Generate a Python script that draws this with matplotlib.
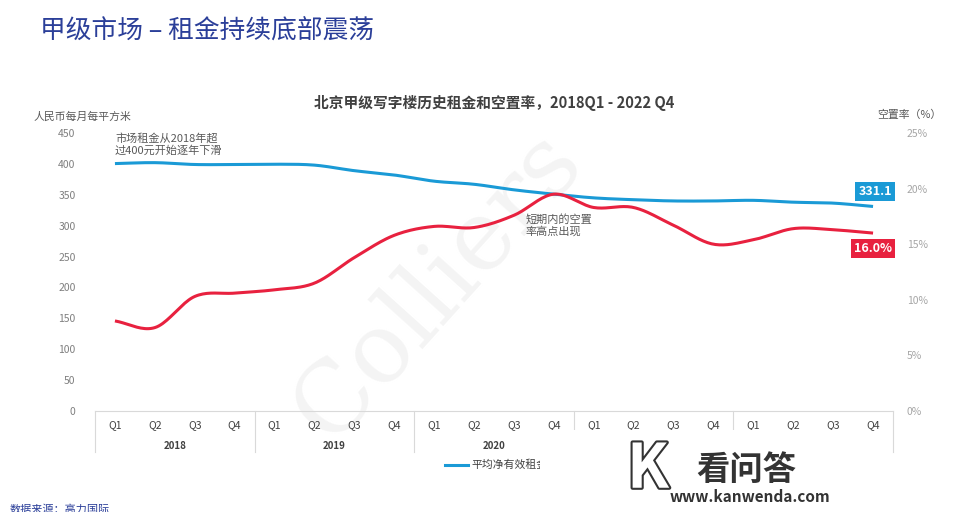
import numpy as np
import matplotlib.pyplot as plt
import matplotlib.patheffects as pe
from matplotlib.transforms import blended_transform_factory
from matplotlib.patches import Rectangle

plt.rcParams['font.family'] = ['Noto Sans CJK SC', 'DejaVu Sans']

# ===== data =====
years = ["2018", "2019", "2020", "2021", "2022"]
quarters = ["Q1", "Q2", "Q3", "Q4"]
rent = [400.5, 402, 399, 399, 399.5, 398, 389, 382, 372, 367,
        358, 351, 345, 342, 340, 340, 341, 338, 336.5, 331.1]
vacancy = [8.1, 7.5, 10.3, 10.6, 10.9, 11.5, 13.8, 15.8, 16.6, 16.5,
           17.6, 19.5, 18.3, 18.3, 16.7, 15.0, 15.4, 16.4, 16.3, 16.0]
left_ticks = [0, 50, 100, 150, 200, 250, 300, 350, 400, 450]
right_ticks = [0, 5, 10, 15, 20, 25]

BLUE = "#1a9ad6"
RED = "#e8213f"
GRAY = "#7f7f7f"


def smooth(y, n=20):
    # Catmull-Rom style smoothing like Excel's smoothed line
    y = np.asarray(y, float)
    p = np.concatenate([[2 * y[0] - y[1]], y, [2 * y[-1] - y[-2]]])
    xs, ys = [], []
    for i in range(len(y) - 1):
        p0, p1, p2, p3 = p[i], p[i + 1], p[i + 2], p[i + 3]
        t = np.linspace(0, 1, n, endpoint=False)
        v = 0.5 * ((2 * p1) + (-p0 + p2) * t + (2 * p0 - 5 * p1 + 4 * p2 - p3) * t**2
                   + (-p0 + 3 * p1 - 3 * p2 + p3) * t**3)
        xs.append(i + t)
        ys.append(v)
    xs.append([len(y) - 1])
    ys.append([y[-1]])
    return np.concatenate(xs), np.concatenate(ys)


W, H = 969, 512
fig = plt.figure(figsize=(W / 100, H / 100), dpi=100)


def fx(px):
    return px / W


def fy(py):
    return 1 - py / H


# ===== page title =====
fig.text(fx(40), fy(32), "甲级市场 – 租金持续底部震荡", fontsize=18.5, color="#2b3f99",
         va="center", ha="left")

# ===== axes =====
ax = fig.add_axes([fx(95), fy(411), fx(893 - 95), (411 - 133) / H])
ax2 = ax.twinx()

n = len(rent)
x = np.arange(n)
ax.set_xlim(-0.5, n - 0.5)
ax.set_ylim(0, 450)
ax2.set_ylim(0, 25)

# Colliers watermark
ax.text(0.43, 0.45, "Colliers", transform=ax.transAxes, fontsize=70,
        family="DejaVu Serif", color="#f4f4f4", rotation=48,
        ha="center", va="center", zorder=0)

sx, sy = smooth(rent)
ax.plot(sx, sy, color=BLUE, lw=2.2, zorder=3, solid_capstyle="butt")
sx, sy = smooth(vacancy)
ax2.plot(sx, sy, color=RED, lw=2.2, zorder=3, solid_capstyle="butt")

for a in (ax, ax2):
    for s in a.spines.values():
        s.set_visible(False)
ax.axhline(0, color="#d9d9d9", lw=0.8, clip_on=False)

ax.set_yticks(left_ticks)
ax.set_yticklabels([str(v) for v in left_ticks])
ax2.set_yticks(right_ticks)
ax2.set_yticklabels([f"{v}%" for v in right_ticks])
ax.tick_params(axis="y", length=0, pad=14, labelsize=7.5, labelcolor=GRAY)
ax2.tick_params(axis="y", length=0, pad=10, labelsize=7.5, labelcolor="#a6a6a6")
ax.set_xticks([])

# category axis (quarters / years)
tr = blended_transform_factory(ax.transData, ax.transAxes)
depth = (452 - 411) / (411 - 133)
for k in range(len(years) + 1):
    xs_ = k * 4 - 0.5
    ax.plot([xs_, xs_], [0, -depth], transform=tr, color="#d9d9d9", lw=0.8, clip_on=False)
for i in range(n):
    ax.text(x[i], -(425 - 411) / 278, quarters[i % 4], transform=tr, ha="center",
            va="center", fontsize=7.5, color="#404040")
for k, yr in enumerate(years):
    ax.text(k * 4 + 1.5, -(446 - 411) / 278, yr, transform=tr, ha="center",
            va="center", fontsize=7, color="#404040", fontweight="bold")

# data labels
ax.text(x[-1] + 0.05, 355, f"{rent[-1]:.1f}", ha="center", va="center", fontsize=9,
        color="white", fontweight="bold",
        bbox=dict(boxstyle="square,pad=0.25", fc=BLUE, ec="none"))
ax2.text(x[-1] + 0.0, 14.6, f"{vacancy[-1]:.1f}%", ha="center", va="center", fontsize=9,
         color="white", fontweight="bold",
         bbox=dict(boxstyle="square,pad=0.25", fc=RED, ec="none"))

# annotations
ax.text(0, 432, "市场租金从2018年超\n过400元开始逐年下滑", ha="left", va="center",
        fontsize=8, color="#595959", linespacing=1.15)
ax.text(10.3, 301, "短期内的空置\n率高点出现", ha="left", va="center",
        fontsize=8, color="#595959", linespacing=1.15)

# titles / axis labels
fig.text(fx(494), fy(103), "北京甲级写字楼历史租金和空置率，2018Q1 - 2022 Q4",
         ha="center", va="center", fontsize=10.6, fontweight="bold", color="#404040")
fig.text(fx(33), fy(117), "人民币每月每平方米", ha="left", va="center", fontsize=7.8,
         color="#595959")
fig.text(fx(877), fy(115), "空置率（%）", ha="left", va="center", fontsize=7.8,
         color="#595959")

# legend (partly hidden)
fig.add_artist(plt.Line2D([fx(445), fx(468)], [fy(465), fy(465)], color=BLUE, lw=2.2))
fig.text(fx(471), fy(465), "平均净有效租金", ha="left", va="center", fontsize=7.8,
         color="#404040")

# site watermark over the bottom
fig.add_artist(Rectangle((fx(540), fy(512)), fx(300), (512 - 430) / H,
                         transform=fig.transFigure, fc="white", ec="none", zorder=5))
fig.text(fx(648), fy(470), "K", ha="center", va="center", fontsize=44, color="white",
         fontweight="bold", zorder=6,
         path_effects=[pe.withStroke(linewidth=3, foreground="#333333")])
fig.text(fx(746), fy(470), "看问答", ha="center", va="center", fontsize=24,
         fontweight="bold", color="#333333", zorder=6)
fig.text(fx(750), fy(497), "www.kanwenda.com", ha="center", va="center", fontsize=11,
         fontweight="bold", color="#333333", zorder=6)

# source
fig.text(fx(10), fy(510), "数据来源：高力国际", ha="left", va="center", fontsize=8,
         color="#2b3f99", style="italic")

fig.savefig("out.png", dpi=100)
